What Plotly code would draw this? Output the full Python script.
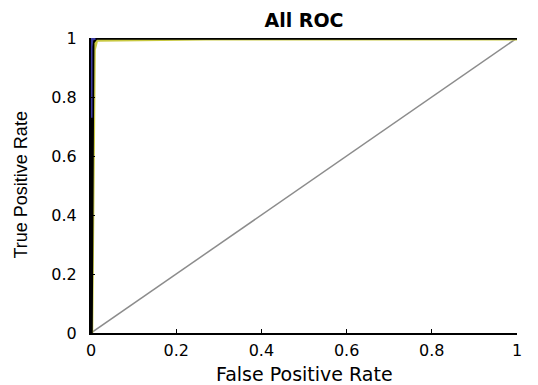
import plotly.graph_objects as go

# ROC curves (FPR, TPR)
fpr_yellow = [0.0, 0.006, 0.012, 0.27, 1.0]
tpr_yellow = [0.0, 0.96, 0.995, 0.999, 0.999]
fpr_blue = [0.0, 0.0, 0.002, 0.01]
tpr_blue = [0.73, 0.97, 0.995, 1.0]
fpr_black = [0.0, 0.003, 0.004, 0.012, 0.27, 1.0]
tpr_black = [0.0, 0.9, 0.985, 1.0, 1.0, 1.0]
fpr_diag = [0.0, 1.0]
tpr_diag = [0.0, 1.0]

tick_vals = [0, 0.2, 0.4, 0.6, 0.8, 1]
tick_text = ["0", "0.2", "0.4", "0.6", "0.8", "1"]

fig = go.Figure()
fig.add_trace(go.Scatter(x=fpr_diag, y=tpr_diag, mode="lines",
                         line=dict(color="#8c8c8c", width=1.5), showlegend=False))
fig.add_trace(go.Scatter(x=fpr_yellow, y=tpr_yellow, mode="lines",
                         line=dict(color="#c8c840", width=4.5), showlegend=False))
fig.add_trace(go.Scatter(x=fpr_black, y=tpr_black, mode="lines",
                         line=dict(color="#000000", width=3.5), showlegend=False))
fig.add_trace(go.Scatter(x=fpr_blue, y=tpr_blue, mode="lines",
                         line=dict(color="#3a3aa0", width=3), showlegend=False))

wide = "DejaVu Sans, Verdana, sans-serif"
narrow = "Liberation Sans, Arial, sans-serif"
fig.update_layout(
    width=538, height=385,
    margin=dict(l=91, r=21, t=38, b=52),
    paper_bgcolor="white", plot_bgcolor="white",
    font=dict(family=wide, color="black", size=16),
    title=dict(text="<b>All ROC</b>", x=0.5, xanchor="center", xref="paper",
               y=1 - 20.5 / 385, yanchor="middle", font=dict(size=19, family=wide)),
    xaxis=dict(range=[0, 1], tickvals=tick_vals, ticktext=tick_text,
               showgrid=False, zeroline=False, showline=True, linecolor="black",
               linewidth=2, ticks="inside", ticklen=4, tickcolor="black",
               ticklabelstandoff=2, tickfont=dict(size=16, family=wide)),
    yaxis=dict(range=[0, 1], tickvals=tick_vals, ticktext=tick_text,
               showgrid=False, zeroline=False, showline=True, linecolor="black",
               linewidth=2, ticks="inside", ticklen=4, tickcolor="black",
               ticklabelstandoff=9, tickfont=dict(size=16, family=wide)),
    annotations=[
        dict(text="False Positive Rate", xref="paper", yref="paper", x=0.5, y=0,
             xanchor="center", yanchor="middle", yshift=-41, showarrow=False,
             font=dict(size=19, family=wide)),
        dict(text="True Positive Rate", xref="paper", yref="paper", x=0, y=0.5,
             xanchor="center", yanchor="middle", xshift=-71, textangle=-90,
             showarrow=False, font=dict(size=18, family=narrow)),
    ],
)
fig.write_html("out.html")
